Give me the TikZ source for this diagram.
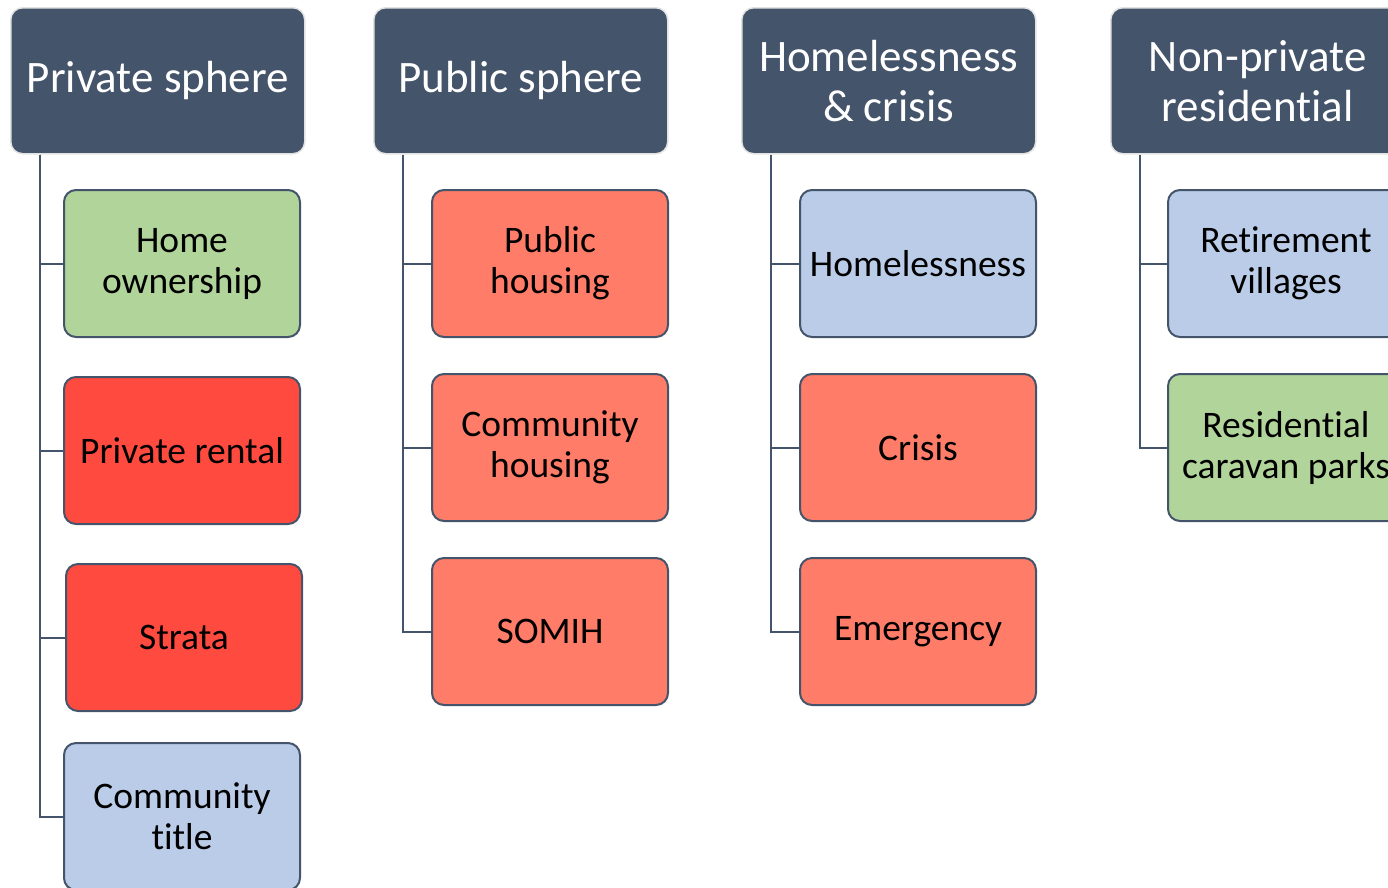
\documentclass[tikz,border=0pt]{standalone}
\usepackage{fontspec}
\setmainfont{Carlito}[Ligatures=NoCommon]
\usetikzlibrary{positioning}
\definecolor{hdr}{HTML}{44546A}
\definecolor{hdrline}{HTML}{E2E2E2}
\definecolor{own}{HTML}{B1D49A}
\definecolor{rent}{HTML}{FF4A40}
\definecolor{soc}{HTML}{FF7C68}
\definecolor{misc}{HTML}{BACCE7}
\tikzset{
  header/.style={rounded corners=12pt,fill=hdr,draw=hdrline,line width=1.5pt,
    text=white,minimum width=294pt,minimum height=146pt,anchor=north west,
    align=center,inner sep=0pt,font=\fontsize{45}{50}\selectfont},
  item/.style={rounded corners=12pt,draw=hdr,line width=2pt,
    minimum width=236pt,minimum height=147pt,anchor=north west,
    align=center,inner sep=0pt,font=\fontsize{37.5}{41}\selectfont},
  branch/.style={draw=hdr,line width=2pt}
}

\begin{document}
\begin{tikzpicture}[x=1pt,y=-1pt]
\useasboundingbox (0,0) rectangle (1388,887);
\clip (0,0) rectangle (1388,887);

% headers
\node[header] (priv) at (10,7) {Private sphere};
\node[header] (pub) at (373,7) {Public sphere};
\node[header] (home) at (741,7) {Homelessness\\\& crisis};
\node[header] (nonp) at (1110,7) {Non-private\\residential};

% private sphere
\node[item,fill=own] (owner) at (63,189) {Home\\ownership};
\node[item,fill=rent] (rental) at (63,376) {Private rental};
\node[item,fill=rent] (strata) at (65,563) {Strata};
\node[item,fill=misc] (ctitle) at (63,742) {Community\\title};

% public sphere
\node[item,fill=soc] (phous) at (431,189) {Public\\housing};
\node[item,fill=soc] (chous) at (431,373) {Community\\housing};
\node[item,fill=soc] (somih) at (431,557) {SOMIH};

% homelessness & crisis
\node[item,fill=misc] (hless) at (799,189) {Homelessness};
\node[item,fill=soc] (crisis) at (799,373) {Crisis};
\node[item,fill=soc] (emerg) at (799,557) {Emergency};

% non-private residential
\node[item,fill=misc] (retire) at (1167,189) {Retirement\\villages};
\node[item,fill=own] (caravan) at (1167,373) {Residential\\caravan parks};

% tree lines
\foreach \p/\c in {priv/owner,priv/rental,priv/strata,priv/ctitle,
                   pub/phous,pub/chous,pub/somih,
                   home/hless,home/crisis,home/emerg,
                   nonp/retire,nonp/caravan}
  \draw[branch] ([xshift=30pt]\p.south west) |- (\c.west);
\end{tikzpicture}
\end{document}
